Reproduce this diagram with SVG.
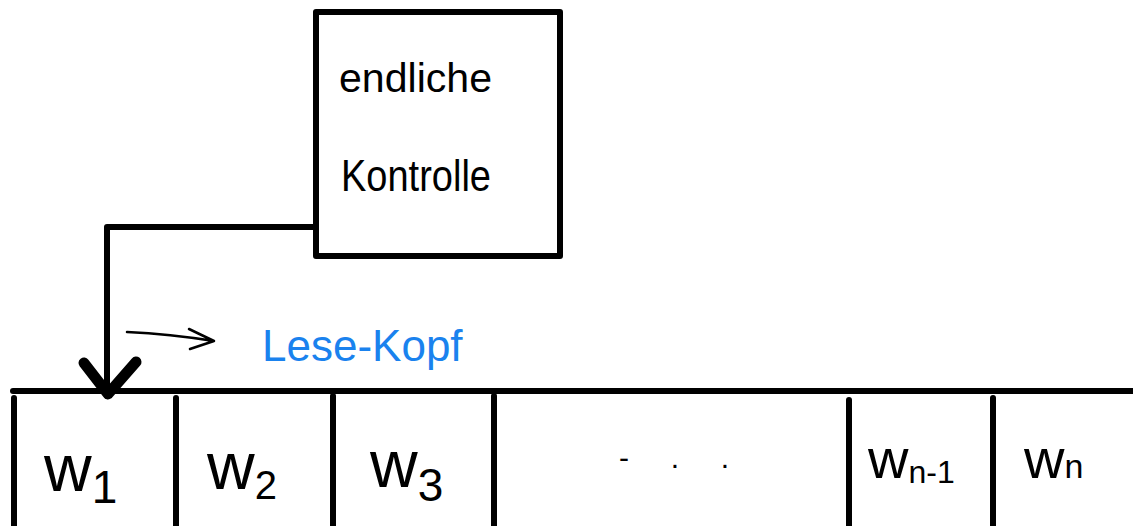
<svg xmlns="http://www.w3.org/2000/svg" width="1133" height="526" viewBox="0 0 1133 526">
<style>
.ln{stroke:#000;stroke-width:6;fill:none;stroke-linecap:round;stroke-linejoin:round}
.hw{font-family:"Liberation Sans",Arial,sans-serif;fill:#000}
.lbl{font-family:"Liberation Sans",Arial,sans-serif;fill:#000}
</style>
<rect width="1133" height="526" fill="#fff"/>
<g id="control">
<rect class="ln" x="316" y="12" width="244" height="244"/>
<text class="hw" x="339" y="92" font-size="40" textLength="153" lengthAdjust="spacingAndGlyphs">endliche</text>
<text class="hw" x="341" y="191" font-size="44" textLength="150" lengthAdjust="spacingAndGlyphs">Kontrolle</text>
</g>
<g id="tape">
<line class="ln" x1="13" y1="391" x2="1133" y2="391"/>
<line class="ln" x1="14" y1="398" x2="14" y2="526"/>
<line class="ln" x1="176" y1="398" x2="176" y2="526"/>
<line class="ln" x1="333" y1="396" x2="333" y2="526"/>
<line class="ln" x1="494" y1="396" x2="494" y2="526"/>
<line class="ln" x1="849" y1="400" x2="849" y2="526"/>
<line class="ln" x1="993" y1="398" x2="993" y2="526"/>
</g>
<g id="cell1"><text class="lbl" x="44" y="491" font-size="66">w<tspan font-size="46" dy="12">1</tspan></text></g>
<g id="cell2"><text class="lbl" x="207" y="489" font-size="66">w<tspan font-size="40" dy="10">2</tspan></text></g>
<g id="cell3"><text class="lbl" x="370" y="487" font-size="66">w<tspan font-size="46" dy="14">3</tspan></text></g>
<g id="cellDots"><text class="lbl" x="619" y="468" font-size="30" xml:space="preserve">-     .     .</text></g>
<g id="cellN1"><text class="lbl" x="868" y="478" font-size="56">w<tspan font-size="32" dy="5">n-1</tspan></text></g>
<g id="cellN"><text class="lbl" x="1024" y="478" font-size="56">w<tspan font-size="34" dy="0">n</tspan></text></g>
<g id="connectors">
<polyline class="ln" points="316,227 107,227 107,396"/>
<polyline points="84,363 108,394 136,362" fill="none" stroke="#000" stroke-width="11" stroke-linecap="round" stroke-linejoin="round"/>
<path d="M127,332 Q170,334 214,341 M189,329 L214,341 L190,349" fill="none" stroke="#000" stroke-width="2.5" stroke-linecap="round" stroke-linejoin="round"/>
</g>
<g id="label"><text x="262" y="361" font-family="Liberation Sans,Arial,sans-serif" font-size="44" fill="#1a82ee">Lese-Kopf</text></g>
</svg>
